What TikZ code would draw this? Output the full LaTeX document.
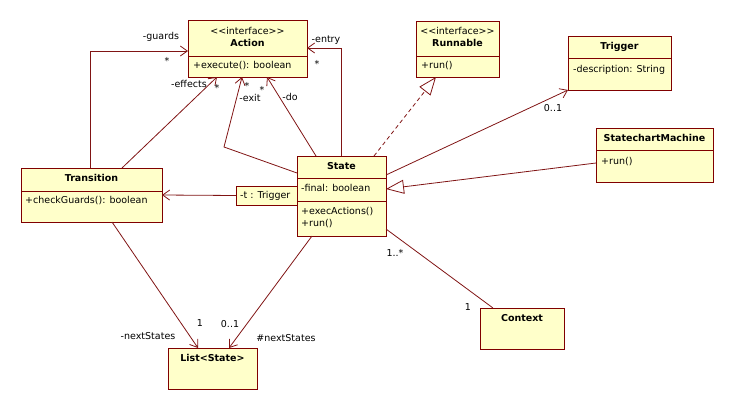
\documentclass[tikz,border=0pt]{standalone}
\usepackage{fontspec}
\setmainfont{DejaVu Sans}
\usetikzlibrary{arrows.meta,calc}
\definecolor{umlfill}{RGB}{255,255,202}
\definecolor{umledge}{RGB}{128,0,0}
\definecolor{umlline}{RGB}{128,20,20}
\tikzset{
  classbox/.style={draw=umledge, fill=umlfill, line width=1pt, anchor=north west, inner sep=0pt, outer sep=0pt},
  compline/.style={draw=umledge, line width=1pt},
  classname/.style={font=\fontsize{9.5}{11}\selectfont\bfseries, anchor=mid, inner sep=0pt},
  stereo/.style={font=\fontsize{9.5}{11}\selectfont, anchor=mid, inner sep=0pt},
  member/.style={font=\fontsize{9.5}{11}\selectfont, anchor=mid west, inner sep=0pt},
  role/.style={font=\fontsize{9.5}{11}\selectfont, anchor=mid, inner sep=0pt},
  assoc/.style={draw=umlline, line width=0.8pt},
  navig/.style={assoc, -{Straight Barb[length=7pt,width=10pt]}},
  inherit/.style={assoc, -{Triangle[open,length=18pt,width=14pt,fill=white]}},
  realize/.style={inherit, dash pattern=on 4pt off 3pt},
}
\begin{document}
\begin{tikzpicture}[x=1pt,y=-1pt]
	%%%%% START %%%%%
	\useasboundingbox (0,0) rectangle (734,410);
	\def\tx{5}

	% interfaces
	\node[classbox, minimum width=119, minimum height=57] (action) at (188,20) {};
	\draw[compline] ([yshift=-36]action.north west) -- ([yshift=-36]action.north east);
	\node[stereo] (actionstereo) at ([yshift=-12]action.north) {<{}<interface>{}>};
	\node[classname] (actiontitle) at ([yshift=-24]action.north) {Action};
	\node[member] (actionop) at ([xshift=\tx,yshift=-46]action.north west) {+execute(): boolean};

	\node[classbox, minimum width=83, minimum height=56] (runnable) at (416,21) {};
	\draw[compline] ([yshift=-35]runnable.north west) -- ([yshift=-35]runnable.north east);
	\node[stereo] (runnablestereo) at ([yshift=-11]runnable.north) {<{}<interface>{}>};
	\node[classname] (runnabletitle) at ([yshift=-23]runnable.north) {Runnable};
	\node[member] (runnableop) at ([xshift=\tx,yshift=-45]runnable.north west) {+run()};

	% classes
	\node[classbox, minimum width=103, minimum height=54] (trigger) at (568,36) {};
	\draw[compline] ([yshift=-22]trigger.north west) -- ([yshift=-22]trigger.north east);
	\node[classname] (triggertitle) at ([yshift=-11]trigger.north) {Trigger};
	\node[member] (triggerattr) at ([xshift=\tx,yshift=-34]trigger.north west) {-description: String};

	\node[classbox, minimum width=117, minimum height=54] (machine) at (596,128) {};
	\draw[compline] ([yshift=-22]machine.north west) -- ([yshift=-22]machine.north east);
	\node[classname] (machinetitle) at ([yshift=-11]machine.north) {StatechartMachine};
	\node[member] (machineop) at ([xshift=\tx,yshift=-34]machine.north west) {+run()};

	\node[classbox, minimum width=89, minimum height=80] (state) at (297,156) {};
	\draw[compline] ([yshift=-22]state.north west) -- ([yshift=-22]state.north east);
	\draw[compline] ([yshift=-45]state.north west) -- ([yshift=-45]state.north east);
	\node[classname] (statetitle) at ([yshift=-11]state.north) {State};
	\node[member] (stateattr) at ([xshift=4,yshift=-33]state.north west) {-final: boolean};
	\node[member] (stateopa) at ([xshift=4,yshift=-56]state.north west) {+execActions()};
	\node[member] (stateopb) at ([xshift=4,yshift=-68]state.north west) {+run()};

	\node[classbox, minimum width=61, minimum height=19] (tbox) at (236,186) {};
	\node[member] (tboxattr) at ([xshift=4]tbox.west) {-t : Trigger};

	\node[classbox, minimum width=141, minimum height=54] (transition) at (21,168) {};
	\draw[compline] ([yshift=-23]transition.north west) -- ([yshift=-23]transition.north east);
	\node[classname] (transitiontitle) at ([yshift=-11]transition.north) {Transition};
	\node[member] (transitionop) at ([xshift=4,yshift=-33]transition.north west) {+checkGuards(): boolean};

	\node[classbox, minimum width=89, minimum height=41] (list) at (168,348) {};
	\node[classname] (listtitle) at ([yshift=-11]list.north) {List<State>};

	\node[classbox, minimum width=84, minimum height=41] (context) at (480,308) {};
	\node[classname] (contexttitle) at ([yshift=-11]context.north) {Context};

	% associations to Action
	\draw[navig] ([xshift=69]transition.north west) |- ([yshift=-31]action.north west);
	\draw[navig] ([xshift=101]transition.north west) -- ([xshift=29]action.south west);
	\coordinate (exitbend) at (224,147);
	\draw[navig] ([yshift=-17]state.north west) -- (exitbend) -- ([xshift=54]action.south west);
	\draw[navig] ([xshift=19]state.north west) -- ([xshift=79]action.south west);
	\draw[navig] ([xshift=44]state.north west) |- ([yshift=-28]action.north east);

	\node[role] (guardsrole) at (161,37) {-guards};
	\node[role] (guardsmult) at (167,62) {*};
	\node[role] (effectsrole) at (189,85) {-effects};
	\node[role] (effectsmult) at (217,89) {*};
	\node[role] (exitmult) at (247,87) {*};
	\node[role] (exitrole) at (250,99) {-exit};
	\node[role] (domult) at (262,91) {*};
	\node[role] (dorole) at (290,98) {-do};
	\node[role] (entryrole) at (326,40) {-entry};
	\node[role] (entrymult) at (317,65) {*};

	% other relations
	\draw[realize] ([xshift=77]state.north west) -- ([xshift=20]runnable.south west);
	\draw[navig] ([yshift=-19]state.north east) -- (trigger.south west);
	\node[role] (triggermult) at (553,109) {0..1};
	\draw[inherit] ([yshift=-35]machine.north west) -- ([yshift=-33]state.north east);
	\draw[navig] (tbox.west) -- (transition.east);

	\draw[navig] ([xshift=91]transition.south west) -- ([xshift=30]list.north west);
	\draw[navig] ([xshift=15]state.south west) -- ([xshift=61]list.north west);
	\node[role] (nextrole) at (148,337) {-nextStates};
	\node[role] (nextmult) at (200,324) {1};
	\node[role] (statenextmult) at (230,325) {0..1};
	\node[role] (statenextrole) at (286,339) {\#nextStates};

	\draw[assoc] ([yshift=7]state.south east) -- ([xshift=13]context.north west);
	\node[role] (statemult) at (395,254) {1..*};
	\node[role] (contextmult) at (468,308) {1};
	%%%%% END %%%%%
\end{tikzpicture}
\end{document}
